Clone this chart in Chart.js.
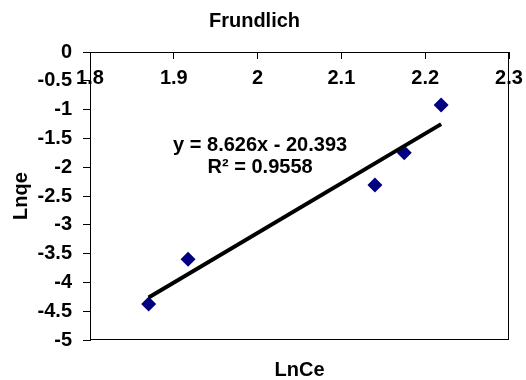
<!DOCTYPE html>
<html><head><meta charset="utf-8">
<script src="https://cdn.jsdelivr.net/npm/chart.js@4/dist/chart.umd.min.js"></script>
<style>html,body{margin:0;padding:0;background:#fff}</style>
</head><body>
<canvas id="c" width="526" height="380"></canvas>
<script>
const lnCe = [1.870, 1.917, 2.140, 2.175, 2.219];
const lnQe = [-4.375, -3.60, -2.31, -1.75, -0.92];
const slope = 8.626;
const intercept = -20.393;
const rSquared = 0.9558;
const xTickLabels = ['1.8', '1.9', '2', '2.1', '2.2', '2.3'];
const yTickLabels = ['-5', '-4.5', '-4', '-3.5', '-3', '-2.5', '-2', '-1.5', '-1', '-0.5', '0'];
const chartTitle = 'Frundlich';
const xTitle = 'LnCe';
const yTitle = 'Lnqe';

Chart.defaults.font.family = '"Liberation Sans", Arial, sans-serif';
Chart.defaults.font.weight = 'bold';
Chart.defaults.color = '#000';

const eqLine1 = 'y = ' + slope + 'x - ' + Math.abs(intercept);
const eqLine2 = 'R\u00B2 = ' + rSquared;

const xMin = Math.min(...lnCe), xMax = Math.max(...lnCe);
const trend = [xMin, xMax].map(x => ({x: x, y: slope * x + intercept}));

const framePlugin = {
  id: 'frame',
  beforeDatasetsDraw(chart) {
    const a = chart.chartArea, ctx = chart.ctx;
    ctx.save();
    ctx.strokeStyle = '#000';
    ctx.lineWidth = 1;
    ctx.strokeRect(Math.round(a.left) + 0.5, Math.round(a.top) + 0.5,
                   Math.round(a.right - a.left) - 1, Math.round(a.bottom - a.top) - 1);
    ctx.restore();
  }
};
const eqPlugin = {
  id: 'eq',
  afterDatasetsDraw(chart) {
    const ctx = chart.ctx, sx = chart.scales.x, sy = chart.scales.y;
    ctx.save();
    ctx.font = 'bold 20px "Liberation Sans", Arial, sans-serif';
    ctx.fillStyle = '#000';
    ctx.textAlign = 'center';
    ctx.textBaseline = 'middle';
    ctx.fillText(eqLine1, sx.getPixelForValue(2.003), sy.getPixelForValue(-1.627));
    ctx.fillText(eqLine2, sx.getPixelForValue(2.003), sy.getPixelForValue(-2.009));
    ctx.restore();
  }
};

new Chart(document.getElementById('c'), {
  type: 'scatter',
  data: {
    datasets: [
      {
        label: 'Lnqe',
        data: lnCe.map((v, i) => ({x: v, y: lnQe[i]})),
        pointStyle: 'rectRot',
        pointRadius: 7.5,
        backgroundColor: '#000080',
        borderColor: '#000080',
        borderWidth: 0,
        order: 1
      },
      {
        label: 'Trend',
        type: 'line',
        data: trend,
        borderColor: '#000',
        borderWidth: 4,
        pointRadius: 0,
        fill: false,
        order: 0
      }
    ]
  },
  options: {
    responsive: false,
    animation: false,
    devicePixelRatio: 1,
    layout: {padding: {left: 0, right: 17, top: 0, bottom: 0}},
    plugins: {
      legend: {display: false},
      tooltip: {enabled: false},
      title: {
        display: true, text: chartTitle, color: '#000',
        font: {size: 20, weight: 'bold'},
        padding: {top: 9, bottom: 19}
      },
      subtitle: {
        display: true, text: xTitle, position: 'bottom', fullSize: false, color: '#000',
        font: {size: 20, weight: 'bold', lineHeight: 1},
        padding: {top: 20, bottom: 0}
      }
    },
    scales: {
      x: {
        type: 'linear',
        position: {y: 0},
        min: 1.8, max: 2.3,
        ticks: {
          stepSize: 0.1, autoSkip: false, maxRotation: 0, padding: 8,
          font: {size: 20, weight: 'bold'}, color: '#000',
          callback: (v, i) => xTickLabels[i]
        },
        grid: {display: true, drawOnChartArea: false, drawTicks: true, tickLength: 6, color: '#000'},
        border: {display: true, color: '#000', width: 1},
        afterFit(s) { s.paddingLeft = 0; s.paddingRight = 0; }
      },
      y: {
        type: 'linear',
        position: 'left',
        min: -5, max: 0,
        ticks: {
          stepSize: 0.5, autoSkip: false, padding: 11,
          font: {size: 20, weight: 'bold'}, color: '#000',
          callback: (v, i) => yTickLabels[i]
        },
        grid: {display: true, drawOnChartArea: false, drawTicks: true, tickLength: 7, color: '#000'},
        border: {display: true, color: '#000', width: 1},
        title: {
          display: true, text: yTitle, color: '#000',
          font: {size: 20, weight: 'bold'},
          padding: {top: 9, bottom: 0}
        },
        afterFit(s) { s.width = 90; }
      }
    }
  },
  plugins: [framePlugin, eqPlugin]
});
</script>
</body></html>
